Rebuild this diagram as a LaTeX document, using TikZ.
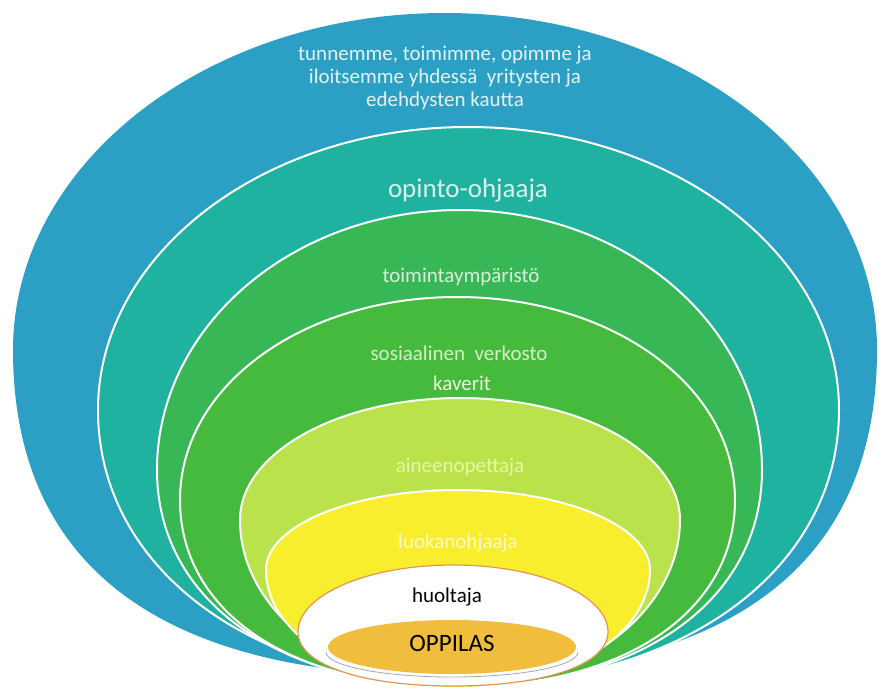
\documentclass[tikz,border=0pt]{standalone}
\usepackage{fontspec}
\setmainfont{Carlito}
\usepackage{tikz}

\definecolor{ringblue}{RGB}{44,160,196}
\definecolor{ringteal}{RGB}{32,178,160}
\definecolor{ringgreen}{RGB}{55,183,85}
\definecolor{ringgrass}{RGB}{70,186,60}
\definecolor{ringlime}{RGB}{185,226,75}
\definecolor{ringyellow}{RGB}{248,238,45}
\definecolor{ringorange}{RGB}{240,190,60}
\definecolor{ringedge}{RGB}{225,150,80}

\begin{document}
\begin{tikzpicture}[x=1pt,y=-1pt]
  \useasboundingbox (0,0) rectangle (879,691);

  \tikzstyle{ringline} = [draw=white, line width=2pt]
  \tikzstyle{ringtext} = [font=\fontsize{21}{23}\selectfont, align=center]

  % outer ring
  \fill[ringblue] (13,350) .. controls (13,164) and (206.5,13) .. (445,13)
    .. controls (683.5,13) and (877,164) .. (877,350)
    .. controls (877,565.2) and (730.1,676) .. (445,676)
    .. controls (159.9,676) and (13,565.2) .. cycle;

  % inner rings, bottoms squeezed together
  \filldraw[fill=ringteal, ringline] (98,410) .. controls (98,253.8) and (263.8,127) .. (468,127)
    .. controls (672.8,127) and (839,253.8) .. (839,410)
    .. controls (839,568.9) and (683.2,684) .. (468,684)
    .. controls (253.4,684) and (98,568.9) .. cycle;
  \filldraw[fill=ringgreen, ringline] (157,470) .. controls (157,326.5) and (292.7,210) .. (460,210)
    .. controls (626.7,210) and (762,326.5) .. (762,470)
    .. controls (762,600.2) and (641.2,687) .. (460,687)
    .. controls (278.2,687) and (157,600.2) .. cycle;
  \filldraw[fill=ringgrass, ringline] (180,500) .. controls (180,384.9) and (304.1,297) .. (457,297)
    .. controls (610.5,297) and (735,384.9) .. (735,500)
    .. controls (735,612.2) and (623.8,687) .. (457,687)
    .. controls (290.8,687) and (180,612.2) .. cycle;
  \filldraw[fill=ringlime, ringline] (240,520) .. controls (240,452.7) and (338.6,398) .. (460,398)
    .. controls (581.4,398) and (680,452.7) .. (680,520)
    .. controls (680,611.9) and (581,687) .. (460,687)
    .. controls (339,687) and (240,611.9) .. cycle;
  \filldraw[fill=ringyellow, ringline] (266,570) .. controls (266,525.8) and (352,490) .. (458,490)
    .. controls (564,490) and (650,525.8) .. (650,570)
    .. controls (650,634.9) and (563.6,688) .. (458,688)
    .. controls (352.4,688) and (266,634.9) .. cycle;
  \filldraw[fill=white, draw=ringedge, line width=1.2pt] (298,632) .. controls (298,595) and (367.4,565) .. (453,565)
    .. controls (538.6,565) and (608,595) .. (608,632)
    .. controls (608,664.4) and (546,686) .. (453,686)
    .. controls (360,686) and (298,664.4) .. cycle;

  % centre
  \draw[gray!70, line width=0.8pt] (326,652) arc[start angle=180, end angle=0, x radius=126, y radius=25];
  \fill[ringorange] (452,647) ellipse [x radius=124, y radius=27];

  % texts
  \node[ringtext, text={rgb,255:red,228;green,243;blue,246}] (tunnemme) at (445,78)
    {tunnemme, toimimme, opimme ja\\iloitsemme yhdessä\ \ yritysten ja\\edehdysten kautta};
  \node[ringtext, font=\fontsize{27}{30}\selectfont, text={rgb,255:red,215;green,242;blue,236}] (opinto) at (468,190) {opinto-ohjaaja};
  \node[ringtext, text={rgb,255:red,218;green,240;blue,218}] (toiminta) at (461,277) {toimintaympäristö};
  \node[ringtext, text={rgb,255:red,212;green,240;blue,200}] (sosiaalinen) at (459,353) {sosiaalinen\ \ verkosto};
  \node[ringtext, text={rgb,255:red,232;green,246;blue,215}] (kaverit) at (462,383) {kaverit};
  \node[ringtext, text={rgb,255:red,230;green,246;blue,170}] (aineenopettaja) at (460,467) {aineenopettaja};
  \node[ringtext, text={rgb,255:red,252;green,250;blue,205}] (luokanohjaaja) at (458,543) {luokanohjaaja};
  \node[ringtext, text=black] (huoltaja) at (447,597) {huoltaja};
  \node[ringtext, font=\fontsize{25}{28}\selectfont, text=black] (oppilas) at (452,643) {OPPILAS};
\end{tikzpicture}
\end{document}
